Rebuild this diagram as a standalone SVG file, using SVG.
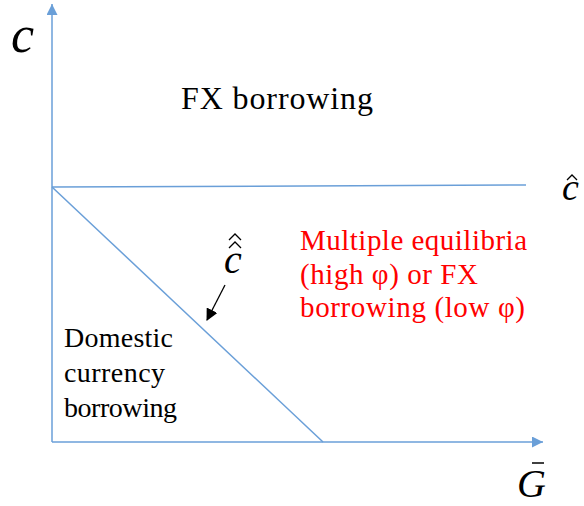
<svg xmlns="http://www.w3.org/2000/svg" width="584" height="506" viewBox="0 0 584 506">
<style>
.ax{stroke:#6A9FD8;stroke-width:1.5;fill:none}
.hat{stroke:#000;stroke-width:1.3;fill:none}
</style>
<defs>
<marker id="ba" markerWidth="12" markerHeight="11" refX="11" refY="5.5" orient="auto" markerUnits="userSpaceOnUse">
<path d="M0,0 L11,5.5 L0,11 Z" fill="#6A9FD8"/>
</marker>
<marker id="ka" markerWidth="12" markerHeight="12" refX="11" refY="6" orient="auto" markerUnits="userSpaceOnUse">
<path d="M0,0 L12,6 L0,12 Z" fill="#000"/>
</marker>
</defs>
<g id="connectors">
<line class="ax" x1="52" y1="442" x2="52" y2="4" marker-end="url(#ba)"/>
<line class="ax" x1="52" y1="442" x2="543" y2="442" marker-end="url(#ba)"/>
<line class="ax" x1="52" y1="187" x2="526" y2="185"/>
<line class="ax" x1="52" y1="187" x2="323" y2="442"/>
<line x1="225" y1="285" x2="207" y2="320" stroke="#000" stroke-width="1.3" marker-end="url(#ka)"/>
</g>
<g font-family="Liberation Serif, Times New Roman, serif" font-style="italic" fill="#000">
<g id="label-c">
<text x="11" y="52" font-size="52">c</text>
</g>
<g id="label-chat">
<text x="562" y="200" font-size="38">c</text>
<path class="hat" d="M567,180 L572,175 L577,180"/>
</g>
<g id="label-cdoublehat">
<text x="224" y="273" font-size="40">c</text>
<path class="hat" d="M229,240 L235,234 L241,240"/>
<path class="hat" d="M229,248 L235,242 L241,248"/>
</g>
<g id="label-G">
<text x="517" y="497" font-size="40">G</text>
<line x1="532" y1="463" x2="544" y2="463" stroke="#000" stroke-width="1.5"/>
</g>
</g>
<g font-family="Liberation Serif, Times New Roman, serif" fill="#000" lengthAdjust="spacing">
<g id="region-fx">
<text x="181" y="109" font-size="32" textLength="192">FX borrowing</text>
</g>
<g id="region-multiple" fill="#FF0000">
<text x="300" y="250" font-size="29" textLength="227">Multiple equilibria</text>
<text x="300" y="284" font-size="29" textLength="178">(high φ) or FX</text>
<text x="300" y="317" font-size="29" textLength="225">borrowing (low φ)</text>
</g>
<g id="region-domestic">
<text x="64" y="347" font-size="28" textLength="109">Domestic</text>
<text x="64" y="382" font-size="28" textLength="101">currency</text>
<text x="64" y="417" font-size="28" textLength="113">borrowing</text>
</g>
</g>
</svg>
